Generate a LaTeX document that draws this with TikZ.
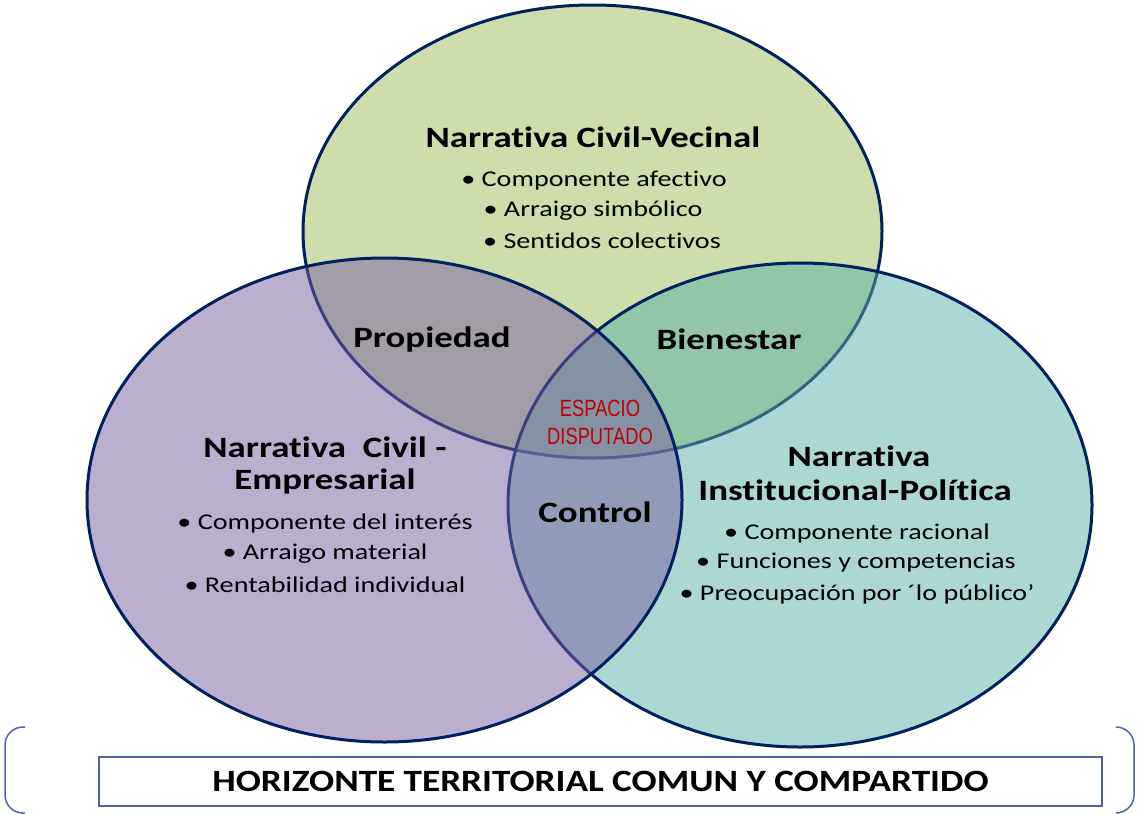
\documentclass[tikz,border=0pt]{standalone}
\usepackage{fontspec}
\setmainfont{Carlito}[FakeStretch=1.25, Ligatures=NoCommon]
\newfontfamily\horizfont{Carlito}[FakeStretch=1.2, Ligatures=NoCommon]
\newfontfamily\narrowfont[FakeStretch=0.78]{Liberation Sans}
\definecolor{edgeblue}{RGB}{0,32,96}
\definecolor{greenbase}{RGB}{155,187,89}
\definecolor{tealbase}{RGB}{91,175,165}
\definecolor{purplebase}{RGB}{119,95,161}
\definecolor{boxblue}{RGB}{80,100,160}
\definecolor{redtext}{RGB}{192,0,0}
\begin{document}
\begin{tikzpicture}[x=1pt,y=-1pt,
  circ/.style={draw=edgeblue, line width=3pt, fill opacity=0.5},
  title/.style={inner sep=0pt, font=\fontsize{29.5}{31}\selectfont\bfseries},
  item/.style={inner sep=0pt, font=\fontsize{22.5}{26}\selectfont},
  red/.style={inner sep=0pt, text=redtext, font=\narrowfont\fontsize{23.5}{26}\selectfont},
  bracket/.style={draw=boxblue, line width=1.5pt, rounded corners=18pt}
]
\useasboundingbox (0,0) rectangle (1138,814);
% ellipses
\path[circ, fill=greenbase] (592.5,231.5) ellipse [x radius=289.5, y radius=226.5];
\path[circ, fill=tealbase] (800,505) ellipse [x radius=292, y radius=242];
\path[circ, fill=purplebase] (384.5,500) ellipse [x radius=297.5, y radius=242];
% top
\node[title] (t1) at (593,137) {Narrativa Civil-Vecinal};
\node[item] (t2) at (594,181) {• Componente afectivo};
\node[item] (t3) at (593,211) {• Arraigo simbólico};
\node[item] (t4) at (602,241) {• Sentidos colectivos};
% intersections
\node[title] (p) at (432,339) {Propiedad};
\node[title] (b) at (729,339) {Bienestar};
\node[title] (c) at (595,512) {Control};
\node[red] (e1) at (600,408) {ESPACIO};
\node[red] (e2) at (600,436) {DISPUTADO};
% left
\node[title] (l1) at (325,447) {Narrativa\ \ Civil -};
\node[title] (l2) at (325,481) {Empresarial};
\node[item] (l3) at (325,523) {• Componente del interés};
\node[item] (l4) at (325,554) {• Arraigo material};
\node[item] (l5) at (325,585) {• Rentabilidad individual};
% right
\node[title] (r1) at (859,456) {Narrativa};
\node[title] (r2) at (855,490) {Institucional-Política};
\node[item] (r3) at (857,533) {• Componente racional};
\node[item] (r4) at (856,563) {• Funciones y competencias};
\node[item] (r5) at (857,594) {• Preocupación por ´lo público’};
% bottom
\draw[bracket] (25,727) -- (5,727) -- (5,813) -- (25,813);
\draw[bracket] (1116,727) -- (1134,727) -- (1134,813) -- (1116,813);
\node[draw=boxblue, line width=1.2pt, minimum width=1003pt, minimum height=49pt, inner sep=0pt,
  font=\horizfont\fontsize{31}{32}\selectfont\bfseries] (h) at (600.5,781.5) {HORIZONTE TERRITORIAL COMUN Y COMPARTIDO};
\end{tikzpicture}
\end{document}
